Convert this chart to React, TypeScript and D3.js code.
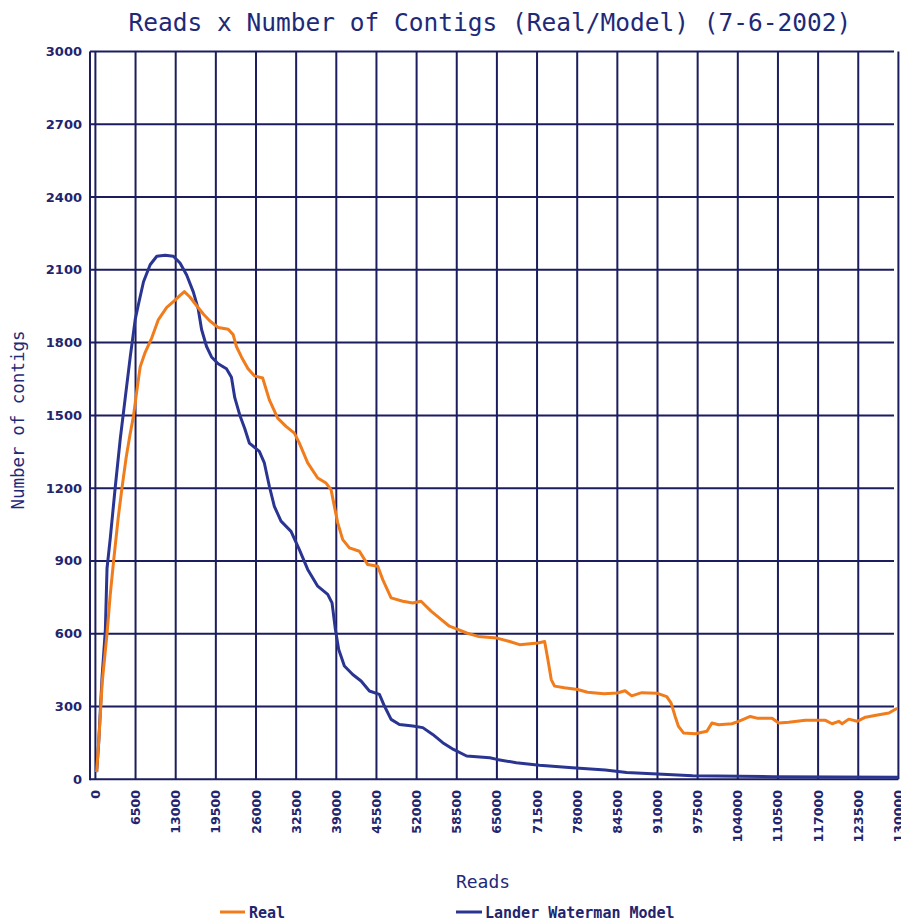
import React from "react";
import * as d3 from "d3";

const xTicks = d3.range(0, 130001, 6500);
const yTicks = d3.range(0, 3001, 300);

const realReads = [200, 600, 1100, 1880, 2400, 2950, 3700, 4300, 5000, 5600, 6180, 6700, 7250, 8060, 9130, 10200, 11550, 12900, 13700, 14400, 15300, 16400, 17500, 18500, 19900, 21500, 22300, 22830, 23640, 24710, 25730, 27080, 28160, 29510, 30860, 32210, 33020, 34370, 35990, 37340, 38150, 38690, 39230, 40040, 41120, 42740, 44090, 45710, 46520, 47870, 49760, 51380, 52720, 54340, 55960, 57310, 58660, 60100, 61970, 65000, 67070, 68670, 71660, 72730, 73260, 73800, 74330, 75930, 78070, 79670, 82340, 84500, 85740, 86820, 88450, 90880, 92500, 93210, 93860, 94400, 95210, 97100, 99000, 99810, 100890, 103050, 104130, 106020, 107100, 109540, 110620, 112240, 114940, 118190, 119270, 120350, 120890, 121970, 123320, 124670, 126840, 128460, 129810];
const realContigs = [30, 180, 400, 600, 760, 900, 1080, 1200, 1330, 1420, 1500, 1600, 1700, 1760, 1820, 1895, 1945, 1975, 1995, 2010, 1988, 1952, 1917, 1890, 1862, 1855, 1833, 1784, 1741, 1692, 1663, 1654, 1564, 1489, 1455, 1427, 1386, 1304, 1242, 1221, 1194, 1125, 1057, 988, 954, 940, 885, 878, 823, 748, 734, 727, 734, 693, 659, 631, 618, 603, 589, 582, 568, 555, 562, 568, 493, 411, 384, 377, 370, 359, 353, 356, 365, 344, 357, 355, 341, 314, 259, 218, 191, 188, 198, 232, 225, 229, 239, 259, 252, 252, 232, 235, 243, 243, 229, 239, 229, 248, 239, 256, 266, 273, 293];

const modelReads = [200, 537, 1074, 1612, 1880, 2417, 3223, 4029, 4835, 5640, 6446, 6983, 7789, 8864, 9938, 11281, 12624, 13698, 14773, 15847, 16653, 17190, 17996, 18802, 19876, 21219, 22025, 22562, 23368, 24174, 24920, 26540, 27350, 28160, 28970, 30050, 31670, 33020, 34370, 35990, 37610, 38310, 38850, 39390, 40310, 41660, 43010, 44360, 45980, 46790, 47870, 49220, 51380, 53000, 54610, 56230, 57970, 60100, 63840, 65000, 68140, 71880, 77220, 82560, 86000, 91000, 96700, 109700, 130000];
const modelContigs = [30, 152, 419, 616, 869, 996, 1207, 1404, 1573, 1741, 1896, 1959, 2051, 2121, 2156, 2160, 2156, 2128, 2079, 2009, 1938, 1854, 1784, 1741, 1713, 1692, 1657, 1573, 1502, 1446, 1386, 1352, 1304, 1208, 1125, 1064, 1022, 947, 865, 796, 762, 727, 618, 535, 467, 432, 405, 364, 350, 302, 247, 226, 220, 213, 185, 151, 123, 96, 89, 82, 68, 58, 48, 38, 28, 22, 15, 11, 8];

const seriesNames = ["Real", "Lander Waterman Model"];
const title = "Reads x Number of Contigs (Real/Model) (7-6-2002)";

export default function App() {
  const W = 901, H = 921;
  const x = d3.scaleLinear().domain([0, 130000]).range([95.4, 898.4]);
  const y = d3.scaleLinear().domain([0, 3000]).range([779.3, 51.5]);
  const grid = "#1b1d5e";
  const txt = "#22246e";
  const orange = "#f07c1c";
  const blue = "#2a3592";
  const line = d3.line<[number, number]>().x((d) => x(d[0])).y((d) => y(d[1]));
  const realPts = realReads.map((r, i) => [r, realContigs[i]] as [number, number]);
  const modelPts = modelReads.map((r, i) => [r, modelContigs[i]] as [number, number]);
  const mono = "'DejaVu Sans Mono', monospace";
  const sans = "'DejaVu Sans', sans-serif";
  return (
    <svg width={W} height={H} style={{ position: "fixed", left: 0, top: 0, background: "#fff" }}>
      <rect x={0} y={0} width={W} height={H} fill="#fff" />
      <text x={490} y={31} textAnchor="middle" fontFamily={mono} fontSize={24.5} fill="#1e2a78">{title}</text>
      {yTicks.map((t) => (
        <line key={"h" + t} x1={90} x2={t === 0 ? 898.4 : 894} y1={y(t)} y2={y(t)} stroke={grid} strokeWidth={2} />
      ))}
      {xTicks.map((t) => (
        <line key={"v" + t} x1={x(t)} x2={x(t)} y1={y(3000)} y2={y(0)} stroke={grid} strokeWidth={2} />
      ))}
      <line x1={90} x2={90} y1={y(3000)} y2={y(0) + 1} stroke={grid} strokeWidth={2} />
      {yTicks.map((t) => (
        <text key={"yl" + t} x={82} y={y(t) + 4.5} textAnchor="end" fontFamily={sans} fontWeight="bold" fontSize={13} fill={txt}>{t}</text>
      ))}
      {xTicks.map((t) => (
        <text key={"xl" + t} transform={`translate(${x(t) + 4.5},790) rotate(-90)`} textAnchor="end" fontFamily={sans} fontWeight="bold" fontSize={12.6} fill={txt}>{t}</text>
      ))}
      <path d={line(modelPts) || ""} fill="none" stroke={blue} strokeWidth={3} strokeLinejoin="round" />
      <path d={line(realPts) || ""} fill="none" stroke={orange} strokeWidth={3} strokeLinejoin="round" />
      <text transform="translate(24,420) rotate(-90)" textAnchor="middle" fontFamily={mono} fontSize={17.5} fill="#1e2a78">Number of contigs</text>
      <text x={483} y={888} textAnchor="middle" fontFamily={mono} fontSize={18} fill="#1e2a78">Reads</text>
      <line x1={220} x2={245} y1={912} y2={912} stroke={orange} strokeWidth={3} />
      <text x={249} y={918} fontFamily={mono} fontWeight="bold" fontSize={15} fill={txt}>{seriesNames[0]}</text>
      <line x1={456} x2={482} y1={912} y2={912} stroke={blue} strokeWidth={3} />
      <text x={485} y={918} fontFamily={mono} fontWeight="bold" fontSize={15} fill={txt}>{seriesNames[1]}</text>
    </svg>
  );
}
